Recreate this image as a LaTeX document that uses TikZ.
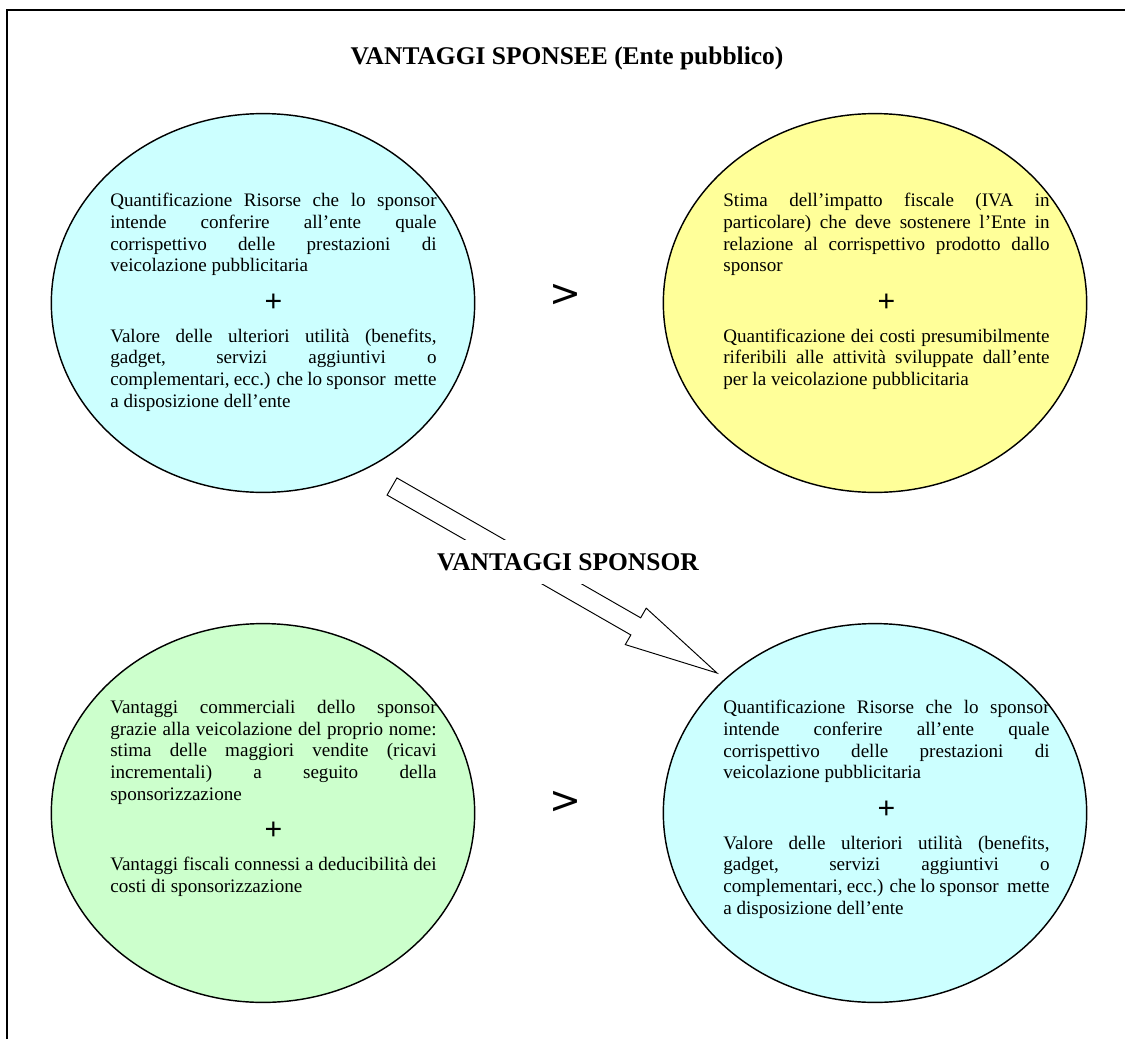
\documentclass[tikz,border=0pt]{standalone}
\usepackage{fontspec}
\setmainfont{Liberation Serif}
\newfontfamily\plusfont{Liberation Sans}
\newfontfamily\gtfont{DejaVu Sans}
\usetikzlibrary{shapes.geometric,calc}

\definecolor{azzurro}{HTML}{CCFFFF}
\definecolor{giallo}{HTML}{FFFF99}
\definecolor{verde}{HTML}{CCFFCC}

\newcommand{\piu}{\par{\fontsize{19}{24.8}\plusfont\centering +\par}\vspace{5.8pt}}

\begin{document}
\begin{tikzpicture}[x=0.6283pt,y=-0.6283pt]

        \useasboundingbox (0,0) rectangle (1125,1039);
        \draw[line width=1.2pt] (7,1039) -- (7,10) -- (1125,10);

        \begin{scope}[every node/.style={ellipse,draw,line width=.9pt,minimum width=266pt,minimum height=238pt,inner sep=0pt}]
          \node[fill=azzurro] (1) at (263,303) {};
          \node[fill=giallo]  (2) at (875,303) {};
          \node[fill=verde]   (3) at (263,813) {};
          \node[fill=azzurro] (4) at (875,813) {};
        \end{scope}

        \begin{scope}[every node/.style={anchor=north west,text width=205pt,align=justify,inner sep=0pt,
            font={\fontsize{12}{13.63}\selectfont\parindent0pt\tolerance10000\hbadness10000\hyphenpenalty10000}}]
          \node (t1) at (110,193) {Quantificazione Risorse che lo sponsor\linebreak
            intende conferire all’ente quale\linebreak
            corrispettivo delle prestazioni di\linebreak
            veicolazione pubblicitaria\piu
            Valore delle ulteriori utilità (benefits,\linebreak
            gadget, servizi aggiuntivi o\linebreak
            complementari, ecc.) che lo sponsor\ \ mette\linebreak
            a disposizione dell’ente};
          \node (t2) at (723,193) {Stima dell’impatto fiscale (IVA in\linebreak
            particolare) che deve sostenere l’Ente in\linebreak
            relazione al corrispettivo prodotto dallo\linebreak
            sponsor\piu
            Quantificazione dei costi presumibilmente\linebreak
            riferibili alle attività sviluppate dall’ente\linebreak
            per la veicolazione pubblicitaria};
          \node (t3) at (110,700) {Vantaggi commerciali dello sponsor\linebreak
            grazie alla veicolazione del proprio nome:\linebreak
            stima delle maggiori vendite (ricavi\linebreak
            incrementali) a seguito della\linebreak
            sponsorizzazione\piu
            Vantaggi fiscali connessi a deducibilità dei\linebreak
            costi di sponsorizzazione};
          \node (t4) at (723,700) {Quantificazione Risorse che lo sponsor\linebreak
            intende conferire all’ente quale\linebreak
            corrispettivo delle prestazioni di\linebreak
            veicolazione pubblicitaria\piu
            Valore delle ulteriori utilità (benefits,\linebreak
            gadget, servizi aggiuntivi o\linebreak
            complementari, ecc.) che lo sponsor\ \ mette\linebreak
            a disposizione dell’ente};
        \end{scope}

        \begin{scope}[every node/.style={font=\fontsize{24}{24}\gtfont}]
          \node (g1) at (565,295) {>};
          \node (g2) at (565,802) {>};
        \end{scope}

        % freccia
        \coordinate (a1) at (392,486.5);
        \coordinate (a2) at (717,673);
        \coordinate (n) at ($(a1)!0.75!(a2)$);
        \draw[line width=.6pt,fill=white] ($(a1)!6.2pt!90:(a2)$) -- ($(n)!6.2pt!90:(a2)$)
          -- ($(n)!13.2pt!90:(a2)$) -- (a2) -- ($(n)!13.2pt!-90:(a2)$)
          -- ($(n)!6.2pt!-90:(a2)$) -- ($(a1)!6.2pt!-90:(a2)$) -- cycle;

        \begin{scope}[every node/.style={anchor=base,font=\fontsize{16}{19}\selectfont\bfseries}]
          \node (title) at (567,65) {VANTAGGI SPONSEE (Ente pubblico)};
          \node[fill=white,inner sep=8.5pt] (sponsor) at (568,570) {VANTAGGI SPONSOR};
        \end{scope}

      \end{tikzpicture}
\end{document}
